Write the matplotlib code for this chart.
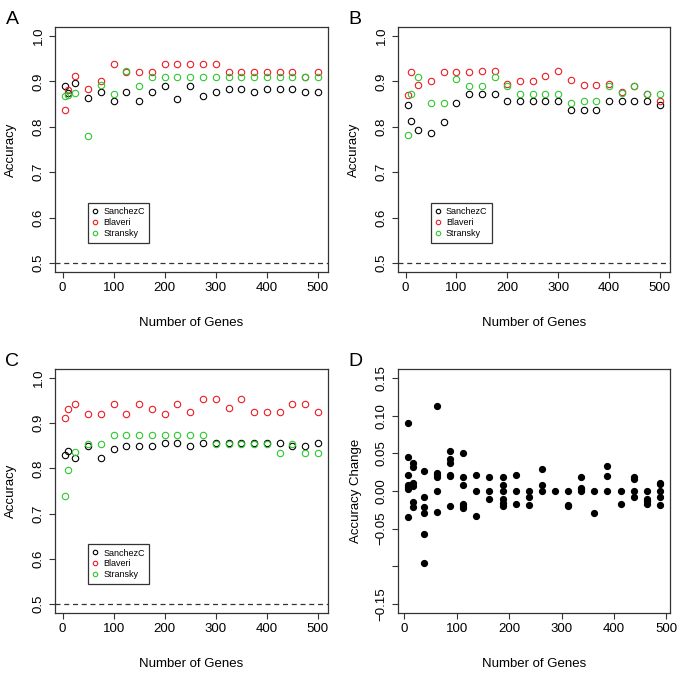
import matplotlib
matplotlib.use("Agg")
import matplotlib.pyplot as plt

plt.rcParams['font.family'] = ['Liberation Sans', 'DejaVu Sans']

###########   data   ##########

genes = [5, 10, 25, 50, 75, 100, 125, 150, 175, 200, 225, 250,
         275, 300, 325, 350, 375, 400, 425, 450, 475, 500]

# panel A
a_sanchez = [0.889, 0.875, 0.897, 0.864, 0.877, 0.856, 0.877, 0.856, 0.877, 0.889, 0.861,
             0.889, 0.869, 0.877, 0.883, 0.883, 0.877, 0.883, 0.883, 0.883, 0.877, 0.877]
a_blaveri = [0.836, 0.881, 0.912, 0.883, 0.901, 0.939, 0.920, 0.920, 0.920, 0.939, 0.939,
             0.939, 0.939, 0.939, 0.920, 0.920, 0.920, 0.920, 0.920, 0.920, 0.909, 0.920]
a_stransky = [0.867, 0.871, 0.875, 0.780, 0.892, 0.872, 0.923, 0.890, 0.909, 0.909, 0.909,
              0.909, 0.909, 0.909, 0.909, 0.909, 0.909, 0.909, 0.909, 0.909, 0.909, 0.909]

# panel B
b_sanchez = [0.849, 0.813, 0.794, 0.786, 0.810, 0.852, 0.872, 0.872, 0.872, 0.856, 0.856,
             0.856, 0.856, 0.856, 0.836, 0.836, 0.836, 0.856, 0.856, 0.856, 0.856, 0.849]
b_blaveri = [0.871, 0.920, 0.893, 0.901, 0.920, 0.920, 0.920, 0.923, 0.923, 0.894, 0.901,
             0.901, 0.912, 0.923, 0.903, 0.893, 0.893, 0.894, 0.876, 0.889, 0.872, 0.856]
b_stransky = [0.783, 0.872, 0.910, 0.853, 0.853, 0.906, 0.889, 0.889, 0.910, 0.889, 0.872,
              0.872, 0.872, 0.872, 0.853, 0.856, 0.856, 0.889, 0.875, 0.889, 0.872, 0.872]

# panel C
c_sanchez = [0.829, 0.838, 0.822, 0.850, 0.822, 0.842, 0.849, 0.849, 0.849, 0.857, 0.857,
             0.849, 0.857, 0.857, 0.857, 0.857, 0.857, 0.857, 0.857, 0.850, 0.849, 0.857]
c_blaveri = [0.911, 0.931, 0.942, 0.921, 0.921, 0.942, 0.921, 0.942, 0.932, 0.921, 0.942,
             0.924, 0.953, 0.953, 0.934, 0.953, 0.924, 0.924, 0.924, 0.942, 0.942, 0.924]
c_stransky = [0.740, 0.797, 0.837, 0.854, 0.854, 0.874, 0.874, 0.874, 0.874, 0.874, 0.874,
              0.874, 0.874, 0.855, 0.855, 0.855, 0.855, 0.855, 0.834, 0.854, 0.834, 0.834]

# panel D (accuracy change vs. midpoint of gene interval)
d_genes = [7.5] * 7 + [17.5] * 6 + [37.5] * 6 + [62.5] * 6 + [87.5] * 6 + [112.5] * 6 \
    + [137.5] * 3 + [162.5] * 3 + [187.5] * 6 + [212.5] * 3 + [237.5] * 3 + [262.5] * 3 \
    + [287.5] * 1 + [312.5] * 3 + [337.5] * 4 + [362.5] * 2 + [387.5] * 3 + [412.5] * 2 \
    + [437.5] * 4 + [462.5] * 4 + [487.5] * 5
d_change = [0.090, 0.045, 0.021, 0.008, 0.005, 0.003, -0.035,
            0.037, 0.032, 0.011, 0.006, -0.015, -0.021,
            0.027, -0.008, -0.021, -0.029, -0.057, -0.096,
            0.113, 0.024, 0.021, 0.018, 0.000, -0.028,
            0.053, 0.043, 0.037, 0.021, 0.020, -0.020,
            0.050, 0.019, 0.0075, -0.017, -0.020, -0.023,
            0.021, 0.000, -0.033,
            0.019, 0.000, -0.011,
            0.019, 0.0075, 0.000, -0.011, -0.016, -0.020,
            0.021, 0.000, -0.017,
            0.000, -0.008, -0.019,
            0.029, 0.0075, 0.000,
            0.000,
            0.000, -0.019, -0.020,
            0.018, 0.004, 0.002, 0.000,
            0.000, -0.029,
            0.033, 0.020, 0.000,
            0.000, -0.017,
            0.019, 0.016, 0.000, -0.0075,
            0.000, -0.010, -0.013, -0.017,
            0.011, 0.009, 0.000, -0.0075, -0.019]

series_names = ["SanchezC", "Blaveri", "Stransky"]
series_colors = ["black", "#ee1c24", "#2ec82e"]

acc_ticks = [0.5, 0.6, 0.7, 0.8, 0.9, 1.0]
acc_labels = ["0.5", "0.6", "0.7", "0.8", "0.9", "1.0"]
chg_ticks = [-0.15, -0.10, -0.05, 0.00, 0.05, 0.10, 0.15]
chg_labels = ["\u22120.15", "", "\u22120.05", "0.00", "0.05", "0.10", "0.15"]
x_ticks = [0, 100, 200, 300, 400, 500]

W, H = 685, 683
fig = plt.figure(figsize=(W / 100, H / 100), dpi=100)


def make_axes(left, top, right, bottom):
    # pixel box -> figure fraction
    return fig.add_axes([left / W, 1 - bottom / H, (right - left) / W, (bottom - top) / H])


def style_axes(ax):
    for s in ax.spines.values():
        s.set_color("#333333")
        s.set_linewidth(0.9)
    ax.tick_params(direction="out", length=4.5, width=0.8, color="#333333",
                   labelsize=9.5, pad=3)
    ax.tick_params(axis="y", labelrotation=90)
    for lab in ax.get_yticklabels():
        lab.set_va("center")
    ax.set_xlabel("Number of Genes", fontsize=9.5, labelpad=16)


def accuracy_panel(ax, values):
    handles = []
    for vals, name, col in zip(values, series_names, series_colors):
        h, = ax.plot(genes, vals, linestyle="none", marker="o", markersize=4.6,
                     markerfacecolor="none", markeredgecolor=col, markeredgewidth=0.8,
                     label=name)
        handles.append(h)
    ax.axhline(0.5, color="#333333", linestyle=(0, (4, 3)), linewidth=0.9)
    ax.set_xlim(-14.8, 519.8)
    ax.set_ylim(0.48, 1.02)
    ax.set_xticks(x_ticks)
    ax.set_yticks(acc_ticks)
    ax.set_yticklabels(acc_labels)
    style_axes(ax)
    ax.set_ylabel("Accuracy", fontsize=9.5, labelpad=11)
    leg = ax.legend(handles=handles, loc="lower left", bbox_to_anchor=(0.12, 0.12),
                    fontsize=6.5, markerscale=0.7, handlelength=0.6, handletextpad=0.6,
                    borderpad=0.5, labelspacing=0.2, fancybox=False, framealpha=1,
                    borderaxespad=0)
    leg.get_frame().set_edgecolor("#333333")
    leg.get_frame().set_linewidth(0.9)


axA = make_axes(55, 27, 328, 272)
accuracy_panel(axA, [a_sanchez, a_blaveri, a_stransky])
axB = make_axes(398, 27, 670, 272)
accuracy_panel(axB, [b_sanchez, b_blaveri, b_stransky])
axC = make_axes(55, 369, 328, 613)
accuracy_panel(axC, [c_sanchez, c_blaveri, c_stransky])

axD = make_axes(398, 369, 670, 613)
axD.plot(d_genes, d_change, linestyle="none", marker="o", markersize=4.2,
         color="black")
axD.set_xlim(-11.7, 506.7)
axD.set_ylim(-0.162, 0.162)
axD.set_xticks(x_ticks)
axD.set_yticks(chg_ticks)
axD.set_yticklabels(chg_labels)
style_axes(axD)
axD.set_ylabel("Accuracy Change", fontsize=9.5, labelpad=10)

for lab, x, y in [("A", 12, 19), ("B", 355, 19), ("C", 12, 361), ("D", 355, 361)]:
    fig.text(x / W, 1 - y / H, lab, fontsize=14, ha="center", va="center")

fig.savefig("out.png", dpi=100)
